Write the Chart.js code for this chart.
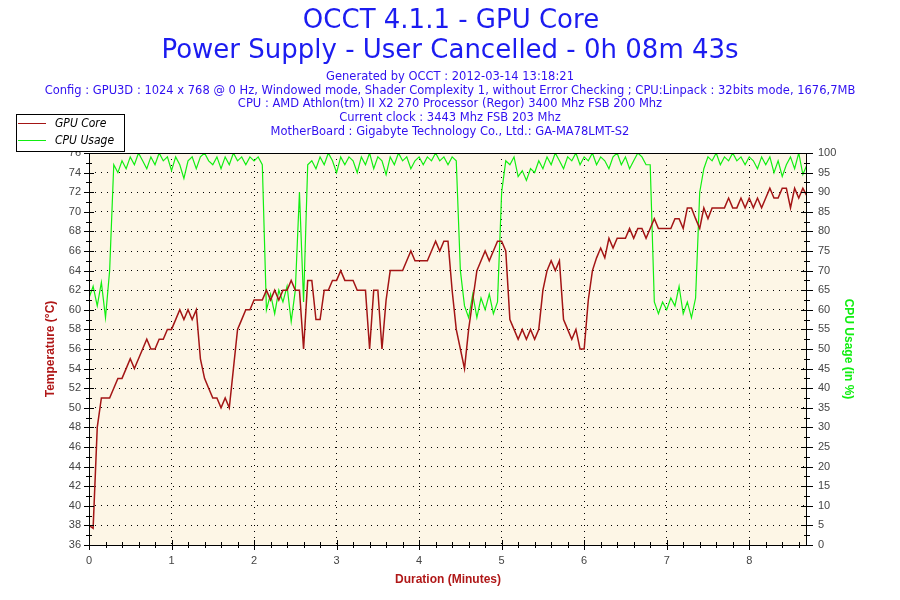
<!DOCTYPE html>
<html>
<head>
<meta charset="utf-8">
<title>OCCT 4.1.1 - GPU Core</title>
<script src="https://cdn.jsdelivr.net/npm/chart.js@4.4.1/dist/chart.umd.min.js"></script>
<style>
  html, body { margin: 0; padding: 0; background: #fff; }
  canvas { display: block; }
</style>
</head>
<body>
<canvas id="occtChart" width="900" height="600"></canvas>
<script>
  // header texts
  const titleLines = ["OCCT 4.1.1 - GPU Core", "Power Supply - User Cancelled - 0h 08m 43s"];
  const infoLines = [
    "Generated by OCCT : 2012-03-14 13:18:21",
    "Config : GPU3D : 1024 x 768 @ 0 Hz, Windowed mode, Shader Complexity 1, without Error Checking ; CPU:Linpack : 32bits mode, 1676,7MB",
    "CPU : AMD Athlon(tm) II X2 270 Processor (Regor) 3400 Mhz FSB 200 Mhz",
    "Current clock : 3443 Mhz FSB 203 Mhz",
    "MotherBoard : Gigabyte Technology Co., Ltd.: GA-MA78LMT-S2",
  ];

  // one sample every 3 seconds (0.05 min)
  const sampleStep = 0.05;
  const durationMax = 8.70;

  // GPU Core temperature (°C)
  const gpuTemp = [
    38, 37.7, 48, 51, 51, 51, 52, 53, 53, 54,
    55, 54, 55, 56, 57, 56, 56, 57, 57, 58,
    58, 59, 60, 59, 60, 59, 60, 55, 53, 52,
    51, 51, 50, 51, 50, 54, 58, 59, 60, 60,
    61, 61, 61, 62, 61, 62, 61, 62, 62, 63,
    62, 62, 56, 63, 63, 59, 59, 62, 62, 63,
    63, 64, 63, 63, 63, 62, 62, 62, 56, 62,
    62, 56, 61, 64, 64, 64, 64, 65, 66, 65,
    65, 65, 65, 66, 67, 66, 67, 67, 62, 58,
    56, 54, 58, 61, 64, 65, 66, 65, 66, 67,
    67, 66, 59, 58, 57, 58, 57, 58, 57, 58,
    62, 64, 65, 64, 65, 59, 58, 57, 58, 56,
    56, 61, 64, 65.3, 66.3, 65.3, 67.3, 66.3, 67.3, 67.3,
    67.3, 68.3, 67.3, 68.3, 68.3, 67.3, 68.3, 69.3, 68.3, 68.3,
    68.3, 68.3, 69.3, 69.3, 68.3, 70.4, 70.4, 69.3, 68.3, 70.4,
    69.3, 70.4, 70.4, 70.4, 70.4, 71.4, 70.4, 70.4, 71.4, 70.4,
    71.4, 70.4, 71.4, 70.4, 71.4, 72.4, 71.4, 71.4, 72.4, 72.4,
    70.4, 72.4, 71.4, 72.4, 71.6,
  ];

  // CPU usage (%)
  const cpuUsage = [
    63, 66, 61, 67, 58, 70, 97, 95, 98, 96,
    99, 97, 100, 98, 96, 99, 97, 100, 98, 99,
    95.5, 99, 97, 93.5, 98, 99, 96, 99, 100, 98,
    97, 99, 96, 99, 97, 100, 98, 99, 97, 99,
    98, 99, 97, 60, 64, 59, 65, 62, 66, 57,
    65, 90, 62, 97, 98, 96, 99, 97, 100, 98,
    95, 99, 97, 99, 98, 95, 99, 97, 100, 96,
    99, 98, 94.5, 99, 97, 100, 98, 99, 96, 98,
    99, 97, 99, 98, 100, 98, 99, 97, 99, 98,
    70, 61, 58, 64, 58, 63, 60, 64, 59, 62,
    90, 98, 97, 99, 94, 95.5, 93, 96, 95, 98,
    96, 99, 97, 100, 98, 96, 99, 98, 100, 97,
    99, 98, 100, 97, 99, 98, 96, 99, 100, 97,
    99, 96, 98, 100, 99, 97, 97, 62, 59, 62,
    60, 63, 61, 66, 59, 62, 58, 63, 90, 96,
    99, 98, 100, 97, 99, 98, 100, 98, 99, 97,
    99, 98, 96, 99, 97, 99, 95, 98, 94, 97,
    99, 96, 100, 94.5, 97,
  ];

  const tempTicks = { min: 36, max: 76, step: 2 };
  const usageTicks = { min: 0, max: 100, step: 5 };

  const times = gpuTemp.map((_, i) => i * sampleStep);

  const redColor = "#a31515";
  const greenColor = "#11ee11";

  const occtFrame = {
    id: "occtFrame",
    beforeDraw(chart) {
      const { ctx, chartArea: a } = chart;
      ctx.save();
      ctx.fillStyle = "#ffffff";
      ctx.fillRect(0, 0, chart.width, chart.height);
      ctx.fillStyle = "#fdf6e6";
      ctx.fillRect(a.left, a.top, a.right - a.left, a.bottom - a.top);
      ctx.restore();
    },
    afterDraw(chart) {
      const { ctx, chartArea: a } = chart;
      const sx = chart.scales.x, sy = chart.scales.y, sy1 = chart.scales.y1;
      ctx.save();

      // frame
      ctx.strokeStyle = "#000";
      ctx.lineWidth = 1;
      ctx.setLineDash([]);
      ctx.strokeRect(a.left + 0.5, a.top + 0.5, a.right - a.left - 1, a.bottom - a.top);

      const line = (x1, y1, x2, y2) => {
        ctx.beginPath();
        ctx.moveTo(x1, y1);
        ctx.lineTo(x2, y2);
        ctx.stroke();
      };

      // left axis ticks: major every 2, minor every 1
      for (let v = sy.min; v <= sy.max; v += 1) {
        const py = Math.round(sy.getPixelForValue(v)) + 0.5;
        const len = (v - sy.min) % 2 === 0 ? 5 : 3;
        line(a.left - len, py, a.left + len, py);
      }
      // right axis ticks: major every 5, minor every 2.5
      for (let v = sy1.min; v <= sy1.max; v += 2.5) {
        const py = Math.round(sy1.getPixelForValue(v)) + 0.5;
        const len = v % 5 === 0 ? 6 : 3;
        line(a.right - len, py, a.right + len, py);
      }
      // x axis ticks: major every minute, minor every 0.2
      for (let k = 0; k * 0.2 <= sx.max + 1e-9; k++) {
        const px = Math.round(sx.getPixelForValue(k * 0.2)) + 0.5;
        const len = k % 5 === 0 ? 5 : 3;
        line(px, a.bottom - len, px, a.bottom + len);
      }

      // titles
      ctx.textAlign = "center";
      ctx.textBaseline = "middle";
      ctx.fillStyle = "#1c1cf0";
      ctx.font = "26px 'DejaVu Sans'";
      ctx.fillText(titleLines[0], 451, 21);
      ctx.fillText(titleLines[1], 450, 51);
      ctx.fillStyle = "#3010f0";
      ctx.font = "11.5px 'DejaVu Sans'";
      infoLines.forEach((t, i) => ctx.fillText(t, 450, 77 + i * 13.7));

      // axis titles
      ctx.font = "bold 12px 'Liberation Sans'";
      ctx.fillStyle = "#b01818";
      ctx.fillText("Duration (Minutes)", (a.left + a.right) / 2, 580);
      ctx.save();
      ctx.translate(51, (a.top + a.bottom) / 2);
      ctx.rotate(-Math.PI / 2);
      ctx.fillText("Temperature (°C)", 0, 0);
      ctx.restore();
      ctx.save();
      ctx.fillStyle = greenColor;
      ctx.translate(848, (a.top + a.bottom) / 2);
      ctx.rotate(Math.PI / 2);
      ctx.fillText("CPU Usage (in %)", 0, 0);
      ctx.restore();

      // legend box
      ctx.fillStyle = "#fff";
      ctx.fillRect(16, 114, 108, 37);
      ctx.strokeStyle = "#000";
      ctx.strokeRect(16.5, 114.5, 108, 37);
      ctx.textAlign = "left";
      ctx.font = "italic 12px 'DejaVu Sans Condensed', 'DejaVu Sans'";
      chart.data.datasets.forEach((ds, i) => {
        const y = 123.5 + i * 17;
        ctx.strokeStyle = ds.borderColor;
        line(18, y, 46, y);
        ctx.fillStyle = "#000";
        ctx.fillText(ds.label, 55, y);
      });

      ctx.restore();
    },
  };

  const ctx = document.getElementById("occtChart");

  new Chart(ctx, {
    type: "line",
    data: {
      datasets: [
        {
          label: "GPU Core",
          data: times.map((t, i) => ({ x: t, y: gpuTemp[i] })),
          borderColor: redColor,
          borderWidth: 1.5,
          pointRadius: 0,
          tension: 0,
          yAxisID: "y",
        },
        {
          label: "CPU Usage",
          data: times.map((t, i) => ({ x: t, y: cpuUsage[i] })),
          borderColor: greenColor,
          borderWidth: 1.2,
          pointRadius: 0,
          tension: 0,
          yAxisID: "y1",
        },
      ],
    },
    options: {
      responsive: false,
      animation: false,
      layout: { padding: { top: 153, left: 0, right: 0, bottom: 0 } },
      plugins: {
        legend: { display: false },
        title: { display: false },
        tooltip: { enabled: false },
      },
      scales: {
        x: {
          type: "linear",
          min: 0,
          max: durationMax,
          afterFit: (s) => { s.height = 55; },
          afterBuildTicks: (s) => { s.ticks = s.ticks.filter((t) => Number.isInteger(t.value)); },
          ticks: {
            stepSize: 1,
            padding: 9,
            color: "#444",
            font: { family: "Liberation Sans", size: 11 },
          },
          grid: { color: "#000", lineWidth: 1, drawTicks: false },
          border: { display: false, dash: [1, 5] },
        },
        y: {
          position: "left",
          min: tempTicks.min,
          max: tempTicks.max,
          afterFit: (s) => { s.width = 89; },
          ticks: {
            stepSize: tempTicks.step,
            padding: 8,
            color: "#444",
            font: { family: "Liberation Sans", size: 11 },
          },
          grid: { color: "#000", lineWidth: 1, drawTicks: false },
          border: { display: false, dash: [1, 5] },
        },
        y1: {
          position: "right",
          min: usageTicks.min,
          max: usageTicks.max,
          afterFit: (s) => { s.width = 93; },
          ticks: {
            stepSize: usageTicks.step,
            padding: 11,
            color: "#444",
            font: { family: "Liberation Sans", size: 11 },
          },
          grid: { display: false, drawTicks: false },
          border: { display: false },
        },
      },
    },
    plugins: [occtFrame],
  });
</script>
</body>
</html>
